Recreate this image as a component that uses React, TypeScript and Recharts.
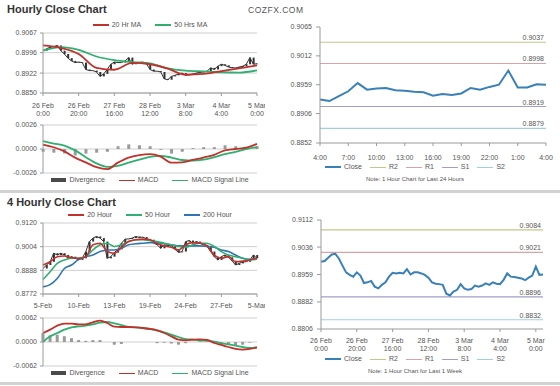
import React from 'react';
import { ComposedChart, Line, Bar, XAxis, YAxis, CartesianGrid, ReferenceLine } from 'recharts';

const FONT = '"Liberation Sans", Arial, sans-serif';
const red = '#c0322b';
const green = '#2fb070';
const blue = '#2f74b5';
const closeBlue = '#3a80b8';
const axisGrey = '#9a9a9a';
const textGrey = '#555';

// ---- hourly close (last 5 days, one value every 2 hours) ----
const hourTicks = [0, 20, 40, 60, 80, 100, 120];
const hourTickLabels = [['26 Feb', '0:00'], ['26 Feb', '20:00'], ['27 Feb', '16:00'], ['28 Feb', '12:00'], ['3 Mar', '8:00'], ['4 Mar', '4:00'], ['5 Mar', '0:00']];
const hourlyYTicks = [0.885, 0.8922, 0.8996, 0.9067];
const hourlyClose = [
  0.9003, 0.9010, 0.9016, 0.9018, 0.9022, 0.9003, 0.8991, 0.8976, 0.8966, 0.8960,
  0.8962, 0.8960, 0.8935, 0.8931, 0.8931, 0.8926, 0.8910, 0.8919, 0.8935, 0.8954,
  0.8962, 0.8960, 0.8960, 0.8966, 0.8978, 0.8954, 0.8960, 0.8960, 0.8962, 0.8956,
  0.8935, 0.8929, 0.8929, 0.8926, 0.8901, 0.8898, 0.8910, 0.8914, 0.8919, 0.8922,
  0.8914, 0.8916, 0.8919, 0.8922, 0.8925, 0.8926, 0.8929, 0.8941, 0.8935, 0.8947,
  0.8954, 0.8950, 0.8944, 0.8941, 0.8941, 0.8944, 0.8947, 0.8954, 0.8978, 0.8954, 0.8956,
];
// moving averages, one value every 10 hours
const hourlyMa20 = [0.9022, 0.9013, 0.8991, 0.8941, 0.8934, 0.8959, 0.8954, 0.8938, 0.8916, 0.8919, 0.8929, 0.8939, 0.8950];
const hourlyMa50 = [0.9003, 0.9016, 0.9006, 0.8982, 0.8969, 0.8962, 0.8957, 0.8939, 0.8931, 0.8928, 0.8925, 0.8924, 0.8932];

// hourly MACD, one value every 6 hours
const hourlyMacdTicks = [-0.0026, 0, 0.0026];
const hourlyMacd = [0.00048, 0.00019, -0.00026, -0.00093, -0.00145, -0.00197, -0.00219, -0.00148, -0.00093, -0.00067, -0.00056, -0.00082, -0.00148, -0.00145, -0.00119, -0.00093, -0.00063, -0.00015, 0, 0.00015, 0.00056];
const hourlySignal = [0.00085, 0.00059, 0.00037, -0.00015, -0.00089, -0.00156, -0.00193, -0.00182, -0.00148, -0.00115, -0.00085, -0.00074, -0.00093, -0.00119, -0.00126, -0.00115, -0.00089, -0.00056, -0.0003, 0, 0.00019];
const hourlyDiv = [-0.0003, -0.0004, -0.0005, -0.0007, -0.0005, -0.0004, -0.0003, 0.0003, 0.0005, 0.0004, 0.0003, -0.0001, -0.0005, -0.0003, 0.0001, 0.0002, 0.0002, 0.0004, 0.0003, 0.0001, 0.0003];

// ---- last 24 hours ----
const dayTicks = [0, 3, 6, 9, 12, 15, 18, 21, 24];
const dayTickLabels = [['4:00'], ['7:00'], ['10:00'], ['13:00'], ['16:00'], ['19:00'], ['22:00'], ['1:00'], ['4:00']];
const dayYTicks = [0.8852, 0.8906, 0.8959, 0.9012, 0.9065];
const dayClose = [0.8932, 0.8929, 0.8938, 0.8947, 0.8962, 0.8950, 0.8952, 0.8953, 0.8949, 0.8948, 0.8946, 0.8945, 0.8939, 0.8942, 0.8940, 0.8943, 0.8953, 0.8950, 0.8955, 0.8959, 0.8985, 0.8954, 0.8954, 0.8960, 0.8959];
const pivotNames = ['R2', 'R1', 'S1', 'S2'];
const pivotColors = ['#c4c78c', '#d8a3a6', '#a19ec8', '#9fd0e2'];
const dayPivots = [0.9037, 0.8998, 0.8919, 0.8879];

// ---- 4 hourly close ----
const fourTicks = [0, 10, 20, 30, 40, 50, 60];
const fourTickLabels = [['5-Feb'], ['10-Feb'], ['13-Feb'], ['19-Feb'], ['24-Feb'], ['27-Feb'], ['5-Mar']];
const fourYTicks = [0.8772, 0.8888, 0.9004, 0.912];
const fourClose = [
  0.8897, 0.8914, 0.8930, 0.8972, 0.8963, 0.8972, 0.8963, 0.8947, 0.8955, 0.8947,
  0.8939, 0.8947, 0.8980, 0.9029, 0.9046, 0.9054, 0.9046, 0.9029, 0.8947, 0.8955,
  0.8975, 0.8991, 0.9021, 0.9041, 0.9042, 0.9046, 0.9054, 0.9049, 0.9051, 0.9042,
  0.9038, 0.9021, 0.9013, 0.8996, 0.9013, 0.9005, 0.9013, 0.8991, 0.8976, 0.8980,
  0.9029, 0.9034, 0.9021, 0.9029, 0.9021, 0.9013, 0.9005, 0.8980, 0.8955, 0.8939,
  0.8955, 0.8963, 0.8952, 0.8935, 0.8914, 0.8922, 0.8930, 0.8930, 0.8939, 0.8963, 0.8947,
];
// averages every second bar
const fourMa20 = [0.8914, 0.8930, 0.8955, 0.8958, 0.8950, 0.8947, 0.8955, 0.9013, 0.9021, 0.8980, 0.8972, 0.9001, 0.9029, 0.9038, 0.9041, 0.9038, 0.9018, 0.9008, 0.9001, 0.8988, 0.9013, 0.9024, 0.9021, 0.9008, 0.8963, 0.8947, 0.8955, 0.8930, 0.8933, 0.8939, 0.8947];
const fourMa50 = [0.8843, 0.8881, 0.8922, 0.8939, 0.8947, 0.8947, 0.8955, 0.8988, 0.9013, 0.9021, 0.9005, 0.9013, 0.9029, 0.9038, 0.9038, 0.9034, 0.9029, 0.9021, 0.9013, 0.9005, 0.9001, 0.9013, 0.9021, 0.9021, 0.9005, 0.8980, 0.8963, 0.8955, 0.8947, 0.8939, 0.8942];
const fourMa200 = [0.8807, 0.8818, 0.8848, 0.8897, 0.8914, 0.8942, 0.8955, 0.8963, 0.8980, 0.8988, 0.8988, 0.8996, 0.9013, 0.9018, 0.9021, 0.9024, 0.9024, 0.9018, 0.9013, 0.9008, 0.9008, 0.9008, 0.9008, 0.9005, 0.9001, 0.8988, 0.8980, 0.8963, 0.8947, 0.8942, 0.8943];

const fourMacdTicks = [-0.0062, 0, 0.0062];
const fourMacd = [0.00232, 0.00319, 0.00422, 0.00474, 0.00474, 0.00456, 0.00456, 0.00508, 0.00551, 0.00491, 0.00396, 0.00387, 0.00387, 0.00379, 0.00362, 0.00336, 0.00301, 0.00232, 0.00146, 0.0006, 0.00043, 0.0006, 0.00069, 0.00052, -0.00026, -0.00077, -0.00129, -0.0018, -0.00198, -0.0018, -0.00138];
const fourSignal = [0, 0.00146, 0.00232, 0.00319, 0.00379, 0.00405, 0.00422, 0.00456, 0.00499, 0.00517, 0.00482, 0.00439, 0.00387, 0.00379, 0.00362, 0.00336, 0.00301, 0.0025, 0.00189, 0.00129, 0.00077, 0.0006, 0.00043, 0.00034, 0.00009, -0.00034, -0.0006, -0.00095, -0.00129, -0.00155, -0.00138];
const fourDiv = [0.0023, 0.0017, 0.0019, 0.0015, 0.001, 0.0005, 0.0003, 0.0005, 0.0005, 0, -0.0007, -0.0005, 0, 0, 0, 0, -0.0003, -0.0002, -0.0004, -0.0007, -0.0003, 0, 0.0002, 0.0002, -0.0003, -0.0004, -0.0006, -0.0008, -0.0007, -0.0002, 0];

// ---- last week, one value every 2 hours ----
const weekTicks = [0, 20, 40, 60, 80, 100, 120];
const weekYTicks = [0.8806, 0.8882, 0.8959, 0.9036, 0.9112];
const weekClose = [
  0.8995, 0.8997, 0.9006, 0.9015, 0.9017, 0.9004, 0.8984, 0.8965, 0.8958, 0.8953,
  0.8965, 0.8956, 0.8935, 0.8937, 0.8941, 0.8925, 0.8920, 0.8930, 0.8937, 0.8953,
  0.8964, 0.8962, 0.8964, 0.8962, 0.8974, 0.8959, 0.8965, 0.8965, 0.8962, 0.8958,
  0.8950, 0.8937, 0.8933, 0.8932, 0.8930, 0.8905, 0.8900, 0.8911, 0.8916, 0.8932,
  0.8920, 0.8916, 0.8918, 0.8928, 0.8925, 0.8928, 0.8934, 0.8930, 0.8937, 0.8933,
  0.8932, 0.8944, 0.8962, 0.8953, 0.8952, 0.8950, 0.8948, 0.8943, 0.8950, 0.8956,
  0.8981, 0.8958, 0.8959,
];
const weekPivots = [0.9084, 0.9021, 0.8896, 0.8832];

// ---- rows for the charts ----
const hourlyRows = hourlyClose.map((c, i) => {
  const prev = i > 0 ? hourlyClose[i - 1] : c;
  const t = i * 2;
  return {
    t,
    close: c,
    body: [Math.min(prev, c), Math.max(prev, c)],
    ma20: t % 10 === 0 ? hourlyMa20[t / 10] : undefined,
    ma50: t % 10 === 0 ? hourlyMa50[t / 10] : undefined,
  };
});
const hourlyMacdRows = hourlyMacd.map((m, i) => ({ t: i * 6, macd: m, signal: hourlySignal[i], div: hourlyDiv[i] }));
const dayRows = dayClose.map((c, i) => ({ t: i, close: c }));
const fourRows = fourClose.map((c, i) => {
  const prev = i > 0 ? fourClose[i - 1] : c;
  return {
    t: i,
    close: c,
    body: [Math.min(prev, c), Math.max(prev, c)],
    ma20: i % 2 === 0 ? fourMa20[i / 2] : undefined,
    ma50: i % 2 === 0 ? fourMa50[i / 2] : undefined,
    ma200: i % 2 === 0 ? fourMa200[i / 2] : undefined,
  };
});
const fourMacdRows = fourMacd.map((m, i) => ({ t: i * 2, macd: m, signal: fourSignal[i], div: fourDiv[i] }));
const weekRows = weekClose.map((c, i) => ({ t: i * 2, close: c }));

const tickStyle = { fontSize: 7, fill: textGrey, fontFamily: FONT };

const makeTick = (ticks: number[], labels: string[][], first: number, gap: number) => (props: any) => {
  const { x, y, payload } = props;
  const lines = labels[ticks.indexOf(payload.value)] || [];
  return (
    <g>
      {lines.map((l, i) => (
        <text key={i} x={x} y={y + first + i * gap} textAnchor="middle" {...tickStyle}>
          {l}
        </text>
      ))}
    </g>
  );
};

type LegendItem = { label: string; color: string; box?: boolean; thick?: number };

const LegendRow = ({ items, top, left, width, gap = 10 }: { items: LegendItem[]; top: number; left: number; width: number; gap?: number }) => (
  <div
    style={{
      position: 'absolute', top, left, width, display: 'flex', justifyContent: 'center', alignItems: 'center',
      gap, fontSize: 7, color: textGrey, fontFamily: FONT, lineHeight: '8px',
    }}
  >
    {items.map((it) => (
      <span key={it.label} style={{ display: 'flex', alignItems: 'center' }}>
        <span style={{ display: 'inline-block', width: it.box ? 15 : 16, height: it.box ? 4 : it.thick ?? 1, background: it.color, marginRight: 3 }} />
        {it.label}
      </span>
    ))}
  </div>
);

const macdLegend: LegendItem[] = [
  { label: 'Divergence', color: '#4a4a4a', box: true },
  { label: 'MACD', color: red },
  { label: 'MACD Signal Line', color: green },
];
const pivotLegend: LegendItem[] = [
  { label: 'Close', color: closeBlue, thick: 1.5 },
  ...pivotNames.map((n, i) => ({ label: n, color: pivotColors[i] })),
];

const yAxisProps = (ticks: number[], width: number, fmt?: (v: number) => string) => ({
  type: 'number' as const,
  domain: [ticks[0], ticks[ticks.length - 1]],
  ticks,
  interval: 0 as const,
  width,
  tick: tickStyle,
  tickSize: 3,
  tickMargin: 3,
  tickLine: { stroke: axisGrey },
  axisLine: { stroke: axisGrey },
  allowDataOverflow: true,
  tickFormatter: fmt ?? ((v: number) => v.toFixed(4)),
});

const PivotLines = (levels: number[]) =>
  levels.map((v, i) => (
    <ReferenceLine
      key={pivotNames[i]}
      y={v}
      stroke={pivotColors[i]}
      strokeWidth={1.2}
      label={{ value: v.toFixed(4), position: 'insideBottomRight', offset: 2, fontSize: 7, fill: textGrey, fontFamily: FONT }}
    />
  ));

const Title = ({ text, top }: { text: string; top: number }) => (
  <div style={{ position: 'absolute', left: 7, top, fontFamily: FONT, fontWeight: 'bold', fontSize: 11, color: '#333' }}>{text}</div>
);

const Note = ({ text, top }: { text: string; top: number }) => (
  <div style={{ position: 'absolute', left: 300, width: 230, top, textAlign: 'center', fontFamily: FONT, fontSize: 6, color: textGrey }}>{text}</div>
);

export default function App() {
  return (
    <div style={{ position: 'absolute', left: 0, top: 0, width: 560, height: 386, background: '#fff', overflow: 'hidden' }}>
      <Title text="Hourly Close Chart" top={3} />
      <div style={{ position: 'absolute', left: 248, top: 5, fontFamily: FONT, fontSize: 8.5, color: textGrey, letterSpacing: 0.5 }}>COZFX.COM</div>

      {/* hourly close */}
      <LegendRow top={21} left={43} width={214} gap={14} items={[{ label: '20 Hr MA', color: red, thick: 1.5 }, { label: '50 Hrs MA', color: green, thick: 1.5 }]} />
      <div style={{ position: 'absolute', left: 0, top: 0 }}>
        <ComposedChart width={265} height={121} data={hourlyRows} margin={{ top: 33, right: 8, bottom: 0, left: 0 }}>
          <CartesianGrid vertical={false} stroke="#cfcfcf" />
          <XAxis dataKey="t" type="number" domain={[0, 120]} ticks={hourTicks} interval={0} height={28} tickSize={3} tickMargin={0}
            tickLine={{ stroke: axisGrey }} axisLine={{ stroke: axisGrey }} tick={makeTick(hourTicks, hourTickLabels, 12, 8)} />
          <YAxis {...yAxisProps(hourlyYTicks, 43)} />
          <Bar dataKey="body" barSize={2} fill="#333" isAnimationActive={false} />
          <Line dataKey="close" stroke="#333" strokeWidth={1} dot={false} isAnimationActive={false} />
          <Line dataKey="ma50" type="monotone" connectNulls stroke={green} strokeWidth={1.8} dot={false} isAnimationActive={false} />
          <Line dataKey="ma20" type="monotone" connectNulls stroke={red} strokeWidth={1.8} dot={false} isAnimationActive={false} />
        </ComposedChart>
      </div>

      {/* hourly MACD */}
      <div style={{ position: 'absolute', left: 0, top: 110 }}>
        <ComposedChart width={265} height={70} data={hourlyMacdRows} margin={{ top: 15, right: 8, bottom: 7, left: 0 }}>
          <CartesianGrid vertical={false} stroke="#cfcfcf" />
          <XAxis dataKey="t" type="number" domain={[0, 120]} hide />
          <YAxis {...yAxisProps(hourlyMacdTicks, 43)} />
          <Bar dataKey="div" barSize={3} fill="#9a9a9a" isAnimationActive={false} />
          <Line dataKey="signal" type="monotone" stroke={green} strokeWidth={1.8} dot={false} isAnimationActive={false} />
          <Line dataKey="macd" type="monotone" stroke={red} strokeWidth={1.8} dot={false} isAnimationActive={false} />
        </ComposedChart>
      </div>
      <LegendRow top={176} left={43} width={214} gap={14} items={macdLegend} />

      {/* last 24 hours */}
      <div style={{ position: 'absolute', left: 270, top: 0 }}>
        <ComposedChart width={290} height={165} data={dayRows} margin={{ top: 27, right: 14, bottom: 0, left: 0 }}>
          <XAxis dataKey="t" type="number" domain={[0, 24]} ticks={dayTicks} interval={0} height={22} tickSize={3} tickMargin={0}
            tickLine={{ stroke: axisGrey }} axisLine={{ stroke: axisGrey }} tick={makeTick(dayTicks, dayTickLabels, 13.5, 8)} />
          <YAxis {...yAxisProps(dayYTicks, 50)} tickSize={4} tickMargin={4} />
          {PivotLines(dayPivots)}
          <Line dataKey="close" stroke={closeBlue} strokeWidth={2} dot={false} isAnimationActive={false} />
        </ComposedChart>
      </div>
      <LegendRow top={163} left={300} width={230} gap={8} items={pivotLegend} />
      <Note text="Note: 1 Hour Chart for Last 24 Hours" top={176} />

      <div style={{ position: 'absolute', left: 0, top: 190, width: 560, height: 3, background: '#d2d2d2' }} />

      {/* 4 hourly close */}
      <Title text="4 Hourly Close Chart" top={196} />
      <LegendRow top={211} left={43} width={214} gap={14}
        items={[{ label: '20 Hour', color: red, thick: 1.5 }, { label: '50 Hour', color: green, thick: 1.5 }, { label: '200 Hour', color: blue, thick: 1.5 }]} />
      <div style={{ position: 'absolute', left: 0, top: 200 }}>
        <ComposedChart width={265} height={110} data={fourRows} margin={{ top: 23, right: 8, bottom: 0, left: 0 }}>
          <CartesianGrid vertical={false} stroke="#cfcfcf" />
          <XAxis dataKey="t" type="number" domain={[0, 60]} ticks={fourTicks} interval={0} height={16} tickSize={3} tickMargin={0}
            tickLine={{ stroke: axisGrey }} axisLine={{ stroke: axisGrey }} tick={makeTick(fourTicks, fourTickLabels, 10.5, 8)} />
          <YAxis {...yAxisProps(fourYTicks, 43)} />
          <Bar dataKey="body" barSize={2} fill="#333" isAnimationActive={false} />
          <Line dataKey="close" stroke="#333" strokeWidth={1} dot={false} isAnimationActive={false} />
          <Line dataKey="ma200" type="monotone" connectNulls stroke={blue} strokeWidth={1.6} dot={false} isAnimationActive={false} />
          <Line dataKey="ma50" type="monotone" connectNulls stroke={green} strokeWidth={1.6} dot={false} isAnimationActive={false} />
          <Line dataKey="ma20" type="monotone" connectNulls stroke={red} strokeWidth={1.6} dot={false} isAnimationActive={false} />
        </ComposedChart>
      </div>

      {/* 4 hourly MACD */}
      <div style={{ position: 'absolute', left: 0, top: 310 }}>
        <ComposedChart width={265} height={65} data={fourMacdRows} margin={{ top: 8, right: 8, bottom: 9, left: 0 }}>
          <CartesianGrid vertical={false} stroke="#cfcfcf" />
          <XAxis dataKey="t" type="number" domain={[0, 60]} hide />
          <YAxis {...yAxisProps(fourMacdTicks, 43)} />
          <Bar dataKey="div" barSize={3} fill="#9a9a9a" isAnimationActive={false} />
          <Line dataKey="signal" type="monotone" stroke={green} strokeWidth={1.8} dot={false} isAnimationActive={false} />
          <Line dataKey="macd" type="monotone" stroke={red} strokeWidth={1.8} dot={false} isAnimationActive={false} />
        </ComposedChart>
      </div>
      <LegendRow top={369} left={43} width={214} gap={14} items={macdLegend} />

      {/* last week */}
      <div style={{ position: 'absolute', left: 270, top: 195 }}>
        <ComposedChart width={290} height={160} data={weekRows} margin={{ top: 25, right: 17, bottom: 0, left: 0 }}>
          <XAxis dataKey="t" type="number" domain={[0, 124]} ticks={weekTicks} interval={0} height={26} tickSize={3} tickMargin={0}
            tickLine={{ stroke: axisGrey }} axisLine={{ stroke: axisGrey }} tick={makeTick(weekTicks, hourTickLabels, 11, 7.5)} />
          <YAxis {...yAxisProps(weekYTicks, 51)} tickSize={4} tickMargin={4} />
          {PivotLines(weekPivots)}
          <Line dataKey="close" stroke={closeBlue} strokeWidth={2} dot={false} isAnimationActive={false} />
        </ComposedChart>
      </div>
      <LegendRow top={355} left={300} width={230} gap={8} items={pivotLegend} />
      <Note text="Note: 1 Hour Chart for Last 1 Week" top={368} />

      <div style={{ position: 'absolute', left: 0, top: 382, width: 560, height: 3, background: '#d2d2d2' }} />
    </div>
  );
}
